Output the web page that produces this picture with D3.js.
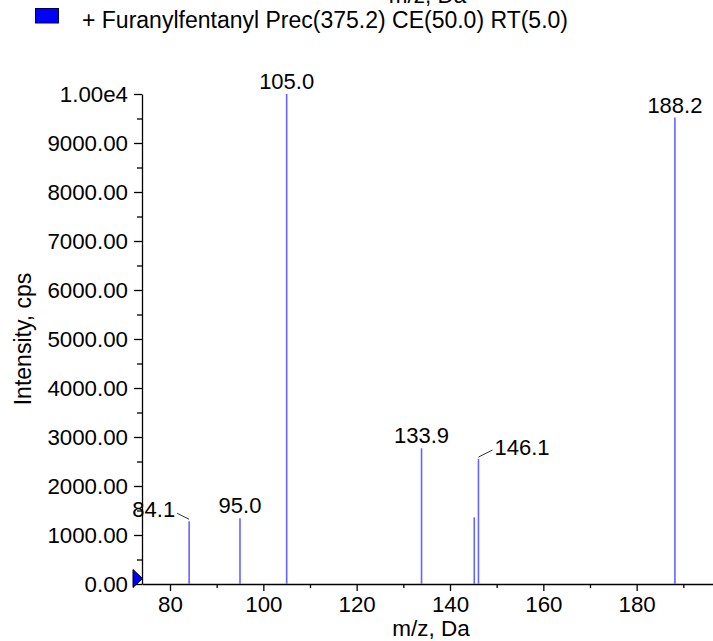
<!DOCTYPE html>
<html>
<head>
<meta charset="utf-8">
<script src="https://cdn.jsdelivr.net/npm/d3@7"></script>
<style>
  html, body { margin: 0; padding: 0; background: #fff; }
  svg { display: block; font-family: "Liberation Sans", Arial, sans-serif; }
</style>
</head>
<body>
<svg id="chart" width="713" height="641"></svg>
<script>
// ---- data ----
const mzValues = [84.1, 95.0, 105.0, 133.9, 145.2, 146.1, 188.2];
const intensities = [1280, 1340, 10000, 2770, 1360, 2550, 9520];
const peakLabels = ["84.1", "95.0", "105.0", "133.9", "", "146.1", "188.2"];
const labelModes = ["left", "top", "top", "top", "none", "right", "top"];
const yMajorTicks = [0, 1000, 2000, 3000, 4000, 5000, 6000, 7000, 8000, 9000, 10000];
const yMinorTicks = [500, 1500, 2500, 3500, 4500, 5500, 6500, 7500, 8500, 9500];
const xMajorTicks = [80, 100, 120, 140, 160, 180];
const xMinorTicks = [90, 110, 130, 150, 170, 190];
const legendText = "+ Furanylfentanyl Prec(375.2) CE(50.0) RT(5.0)";
const xTitle = "m/z, Da";
const yTitle = "Intensity, cps";

// ---- layout ----
const svg = d3.select("#chart");
const plotLeft = 142, plotRight = 713, plotTop = 94, plotBottom = 584;
const x = d3.scaleLinear().domain([74, 196.36]).range([plotLeft, plotRight]);
const y = d3.scaleLinear().domain([0, 10000]).range([plotBottom, plotTop]);
const FONT_LABEL = 22, FONT_TICK = 22.3, FONT_TITLE = 22.5;

// cut-off title from panel above (it is clipped in the original too)
svg.append("text").attr("x", 427.5).attr("y", 3).attr("text-anchor", "middle")
  .attr("font-size", FONT_TITLE).text(xTitle);

// legend
svg.append("rect").attr("x", 35.5).attr("y", 8.5).attr("width", 23).attr("height", 14.5)
  .attr("fill", "#0000ff").attr("stroke", "#000050").attr("stroke-width", 1);
svg.append("text").attr("x", 82).attr("y", 28).attr("font-size", 23).attr("fill", "#000")
  .text(legendText);

// y axis
const yAxis = d3.axisLeft(y).tickValues(yMajorTicks).tickSize(8).tickSizeOuter(0).tickPadding(6)
  .tickFormat(d => d === 10000 ? "1.00e4" : d.toFixed(2));
const gy = svg.append("g").attr("transform", `translate(${plotLeft},0)`).call(yAxis);
const gyMinor = svg.append("g").attr("transform", `translate(${plotLeft},0)`)
  .call(d3.axisLeft(y).tickValues(yMinorTicks).tickSize(5).tickFormat(""));
gyMinor.select(".domain").remove();

// x axis
const xAxis = d3.axisBottom(x).tickValues(xMajorTicks).tickSize(7).tickSizeOuter(0).tickPadding(5)
  .tickFormat(d3.format("d"));
const gx = svg.append("g").attr("transform", `translate(0,${plotBottom})`).call(xAxis);
const gxMinor = svg.append("g").attr("transform", `translate(0,${plotBottom})`)
  .call(d3.axisBottom(x).tickValues(xMinorTicks).tickSize(4).tickFormat(""));
gxMinor.select(".domain").remove();

[gy, gyMinor, gx, gxMinor].forEach(g => {
  g.selectAll("path, line").attr("stroke", "#000").attr("stroke-width", 1.3);
  g.selectAll("text").attr("font-size", FONT_TICK).attr("fill", "#000")
    .attr("font-family", "Liberation Sans, Arial, sans-serif");
});

// axis titles
svg.append("text").attr("x", 431).attr("y", 636).attr("text-anchor", "middle")
  .attr("font-size", FONT_TITLE).text(xTitle);
svg.append("text").attr("transform", `translate(31,${(plotTop + plotBottom) / 2}) rotate(-90)`)
  .attr("text-anchor", "middle").attr("font-size", 23).text(yTitle);

// peaks
const peaks = mzValues.map((m, i) => ({ mz: m, v: intensities[i], label: peakLabels[i], mode: labelModes[i] }));
svg.append("g").selectAll("line").data(peaks).join("line")
  .attr("x1", d => x(d.mz)).attr("x2", d => x(d.mz))
  .attr("y1", y(0)).attr("y2", d => y(d.v))
  .attr("stroke", "#6464ff").attr("stroke-width", 1.6);

const lab = svg.append("g");
peaks.forEach(d => {
  const px = x(d.mz), py = y(d.v);
  if (d.mode === "top") {
    lab.append("text").attr("x", px).attr("y", py - 5).attr("text-anchor", "middle")
      .attr("font-size", FONT_LABEL).text(d.label);
  } else if (d.mode === "left") {
    lab.append("line").attr("x1", px - 12).attr("y1", py - 8).attr("x2", px).attr("y2", py - 2)
      .attr("stroke", "#333").attr("stroke-width", 1);
    lab.append("text").attr("x", px - 14).attr("y", py - 4.5).attr("text-anchor", "end")
      .attr("font-size", FONT_LABEL).text(d.label);
  } else if (d.mode === "right") {
    lab.append("line").attr("x1", px).attr("y1", py - 2).attr("x2", px + 14).attr("y2", py - 9)
      .attr("stroke", "#333").attr("stroke-width", 1);
    lab.append("text").attr("x", px + 16).attr("y", py - 4).attr("text-anchor", "start")
      .attr("font-size", FONT_LABEL).text(d.label);
  }
});

// origin marker
svg.append("path")
  .attr("d", d3.line()([[133, 569.5], [142.5, 578.5], [133, 587.5]]) + "Z")
  .attr("fill", "#0000ff").attr("stroke", "#000").attr("stroke-width", 1);
</script>
</body>
</html>
